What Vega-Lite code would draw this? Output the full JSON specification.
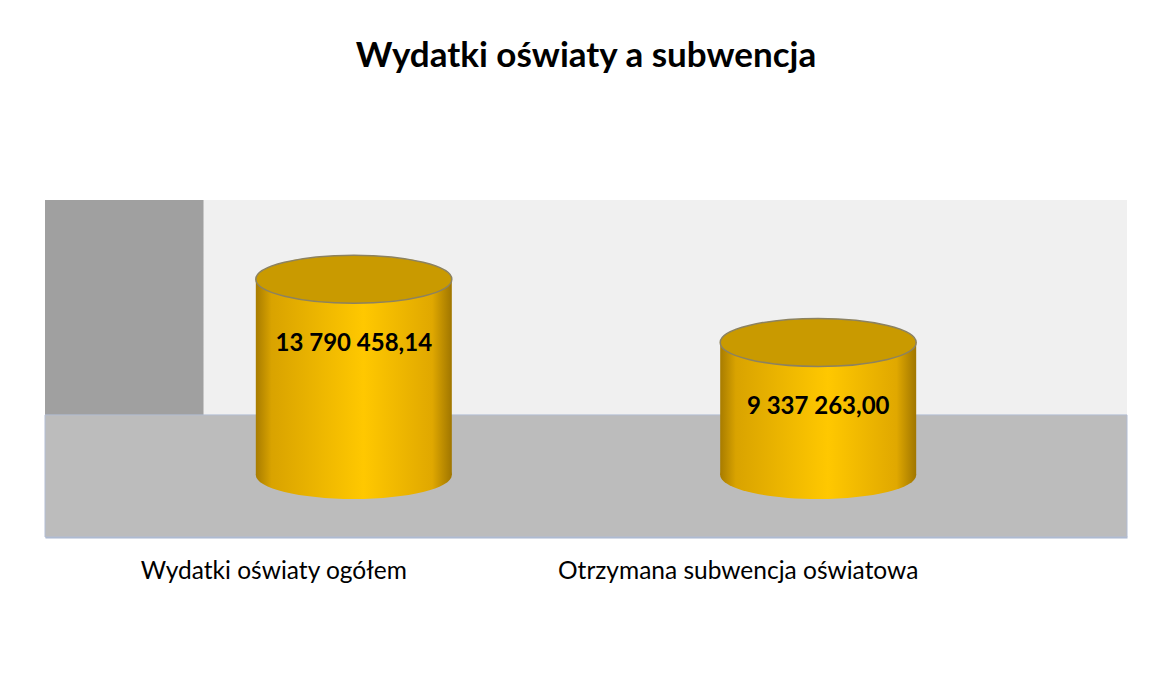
{
  "$schema": "https://vega.github.io/schema/vega-lite/v6.json",
  "autosize": {"type": "none"},
  "width": 1082,
  "height": 337,
  "padding": {"left": 45, "right": 27, "top": 200, "bottom": 145},
  "background": "white",
  "title": {
    "text": "Wydatki oświaty a subwencja",
    "font": "Lato",
    "fontSize": 35,
    "fontWeight": "bold",
    "color": "#000000",
    "anchor": "middle",
    "offset": 126
  },
  "config": {
    "locale": {"number": {"decimal": ",", "thousands": " ", "grouping": [3], "currency": ["", " zł"]}},
    "view": {
      "stroke": null,
      "fill": {
        "gradient": "linear", "x1": 0, "x2": 1, "y1": 0, "y2": 0,
        "stops": [
          {"offset": 0, "color": "#a0a0a0"},
          {"offset": 0.146, "color": "#a0a0a0"},
          {"offset": 0.147, "color": "#f0f0f0"},
          {"offset": 1, "color": "#f0f0f0"}
        ]
      }
    }
  },
  "data": {
    "values": [
      {"kategoria": "Wydatki oświaty ogółem", "wartosc": 13790458.14},
      {"kategoria": "Otrzymana subwencja oświatowa", "wartosc": 9337263.00}
    ]
  },
  "encoding": {
    "x": {
      "field": "kategoria",
      "type": "nominal",
      "sort": null,
      "scale": {"paddingInner": 0, "paddingOuter": 0.165},
      "axis": {
        "title": null,
        "labelAngle": 0,
        "ticks": false,
        "domain": true,
        "domainColor": "#a9b6cf",
        "domainWidth": 2,
        "labelFont": "Lato",
        "labelFontSize": 24.5,
        "labelColor": "#000000",
        "labelPadding": 22,
        "labelOffset": -80,
        "labelLimit": 600
      }
    }
  },
  "layer": [
    {
      "data": {"values": [{}]},
      "mark": {"type": "rect", "fill": "#bcbcbc", "stroke": "#b2bdd4", "strokeWidth": 1},
      "encoding": {
        "x": null,
        "y": {"datum": -4370000, "type": "quantitative", "scale": {"domain": [-4370000, 19370000], "nice": false, "zero": false}, "axis": null},
        "y2": {"datum": 4230000}
      }
    },
    {
      "mark": {
        "type": "point",
        "shape": "M -1 0 A 1 0.245 0 1 1 1 0 A 1 0.245 0 1 1 -1 0 Z",
        "size": 38416,
        "filled": true,
        "opacity": 1,
        "strokeWidth": 0,
        "fill": {
          "gradient": "linear", "x1": 0, "x2": 1, "y1": 0, "y2": 0,
          "stops": [
            {"offset": 0, "color": "#a87c00"},
            {"offset": 0.08, "color": "#d9a300"},
            {"offset": 0.55, "color": "#ffc800"},
            {"offset": 0.9, "color": "#e0a800"},
            {"offset": 1, "color": "#a07600"}
          ]
        }
      },
      "encoding": {
        "y": {"datum": 0, "type": "quantitative"}
      }
    },
    {
      "mark": {
        "type": "bar",
        "width": 196,
        "fill": {
          "gradient": "linear", "x1": 0, "x2": 1, "y1": 0, "y2": 0,
          "stops": [
            {"offset": 0, "color": "#a87c00"},
            {"offset": 0.08, "color": "#d9a300"},
            {"offset": 0.55, "color": "#ffc800"},
            {"offset": 0.9, "color": "#e0a800"},
            {"offset": 1, "color": "#a07600"}
          ]
        }
      },
      "encoding": {
        "y": {"field": "wartosc", "type": "quantitative"},
        "y2": {"datum": 0}
      }
    },
    {
      "mark": {
        "type": "point",
        "shape": "M -1 0 A 1 0.245 0 1 1 1 0 A 1 0.245 0 1 1 -1 0 Z",
        "size": 38416,
        "filled": true,
        "opacity": 1,
        "fill": "#c99a00",
        "stroke": "#8c8260",
        "strokeWidth": 1.5
      },
      "encoding": {
        "y": {"field": "wartosc", "type": "quantitative"}
      }
    },
    {
      "mark": {
        "type": "text",
        "font": "Lato",
        "fontSize": 24,
        "fontWeight": "bold",
        "color": "#000000",
        "baseline": "middle",
        "align": "center",
        "dy": 65
      },
      "encoding": {
        "y": {"field": "wartosc", "type": "quantitative"},
        "text": {"field": "wartosc", "type": "quantitative", "format": ",.2f"}
      }
    }
  ]
}
